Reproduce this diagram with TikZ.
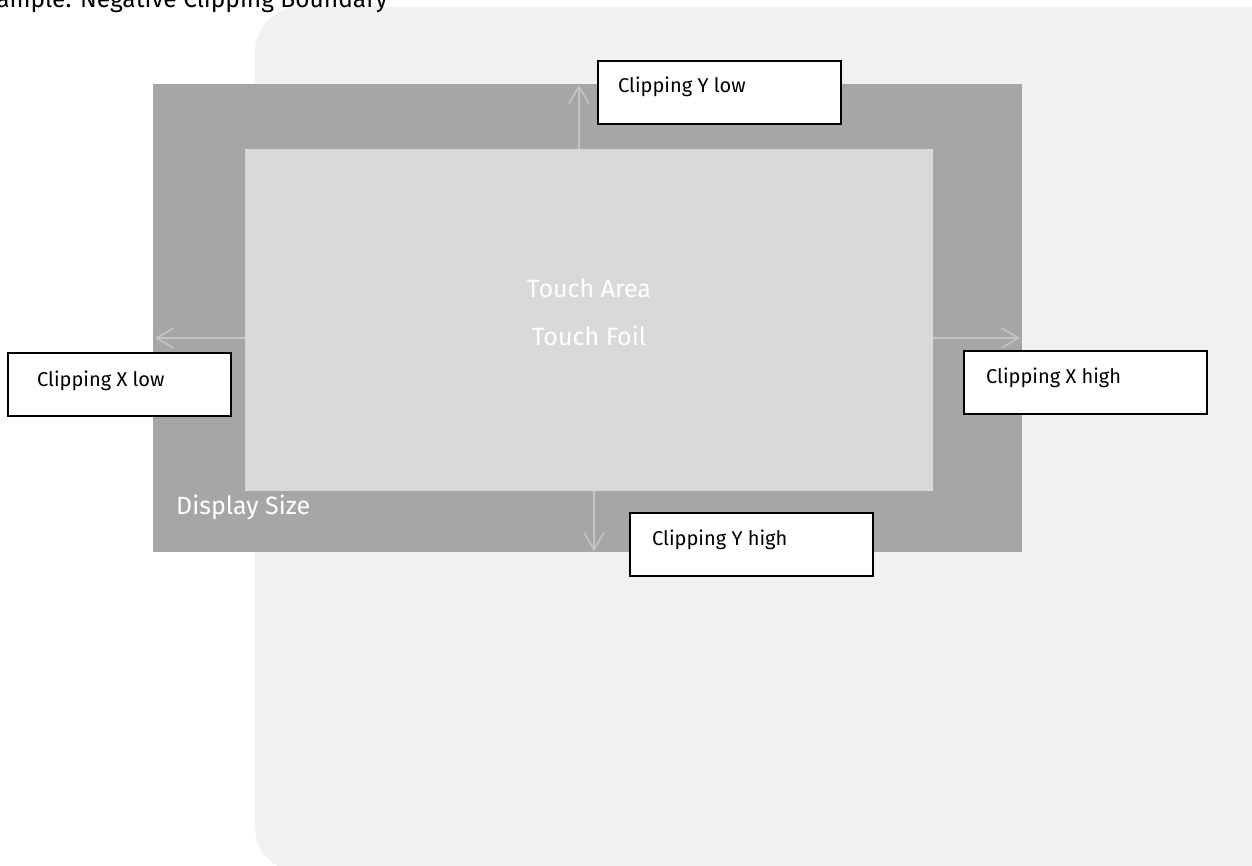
\documentclass[tikz,border=0pt]{standalone}
\usepackage{fontspec}
\setmainfont{Fira Sans}
\usetikzlibrary{arrows.meta,calc}
\definecolor{bgl}{HTML}{F1F1F1}
\definecolor{disp}{HTML}{A6A6A6}
\definecolor{tarea}{HTML}{D9D9D9}
\definecolor{arr}{HTML}{C4C4C4}
\begin{document}
\begin{tikzpicture}[x=1pt,y=-1pt,
  clipbox/.style={draw=black, line width=2pt, fill=white, minimum width=243pt, minimum height=63pt, anchor=north west, inner sep=0pt, outer sep=0pt},
  boxtext/.style={font=\fontsize{20}{22}\selectfont, anchor=base west, inner sep=0pt},
  bigtext/.style={font=\fontsize{25}{28}\selectfont, text=white, inner sep=0pt},
  clarrow/.style={draw=arr, line width=1.6pt, -{Straight Barb[length=17pt,width=20pt,line width=1.6pt]}},
  plain/.style={draw=none, inner sep=0pt, outer sep=0pt, anchor=north west}]
\useasboundingbox (0,0) rectangle (1252,865);
% background panel
\fill[bgl, rounded corners=45pt] (255,7) rectangle (1320,872);
% title
\node[font=\fontsize{24.5}{26}\selectfont, anchor=base east, inner sep=0pt] (title) at (388,7) {Example: Negative Clipping Boundary};
% display and touch area
\node[plain, fill=disp, minimum width=869pt, minimum height=468pt] (disp) at (153,84) {};
\node[plain, fill=tarea, minimum width=688pt, minimum height=342pt] (touch) at (245,149) {};
\node[bigtext, anchor=base] (ta) at (589,297) {Touch Area};
\node[bigtext, anchor=base] (tf) at (589,345) {Touch Foil};
\node[bigtext, anchor=base west] (ds) at (176,514) {Display Size};
% arrows
\coordinate (yl1) at (579,149); \coordinate (yl2) at (579,85);
\coordinate (yh1) at (594,491); \coordinate (yh2) at (594,551);
\coordinate (xl1) at (245,338); \coordinate (xl2) at (155,338);
\coordinate (xh1) at (933,338); \coordinate (xh2) at (1020,338);
\draw[clarrow] (yl1) -- (yl2);
\draw[clarrow] (yh1) -- (yh2);
\draw[clarrow] (xl1) -- (xl2);
\draw[clarrow] (xh1) -- (xh2);
% clipping boxes
\node[clipbox] (ylow) at (598,61) {};
\node[boxtext] at ($(ylow.north west)+(20,31)$) {Clipping Y low};
\node[clipbox] (yhigh) at (630,513) {};
\node[boxtext] at ($(yhigh.north west)+(22,32)$) {Clipping Y high};
\node[clipbox, minimum width=223pt] (xlow) at (8,353) {};
\node[boxtext] at ($(xlow.north west)+(29,33)$) {Clipping X low};
\node[clipbox] (xhigh) at (964,351) {};
\node[boxtext] at ($(xhigh.north west)+(22,32)$) {Clipping X high};
\end{tikzpicture}
\end{document}
